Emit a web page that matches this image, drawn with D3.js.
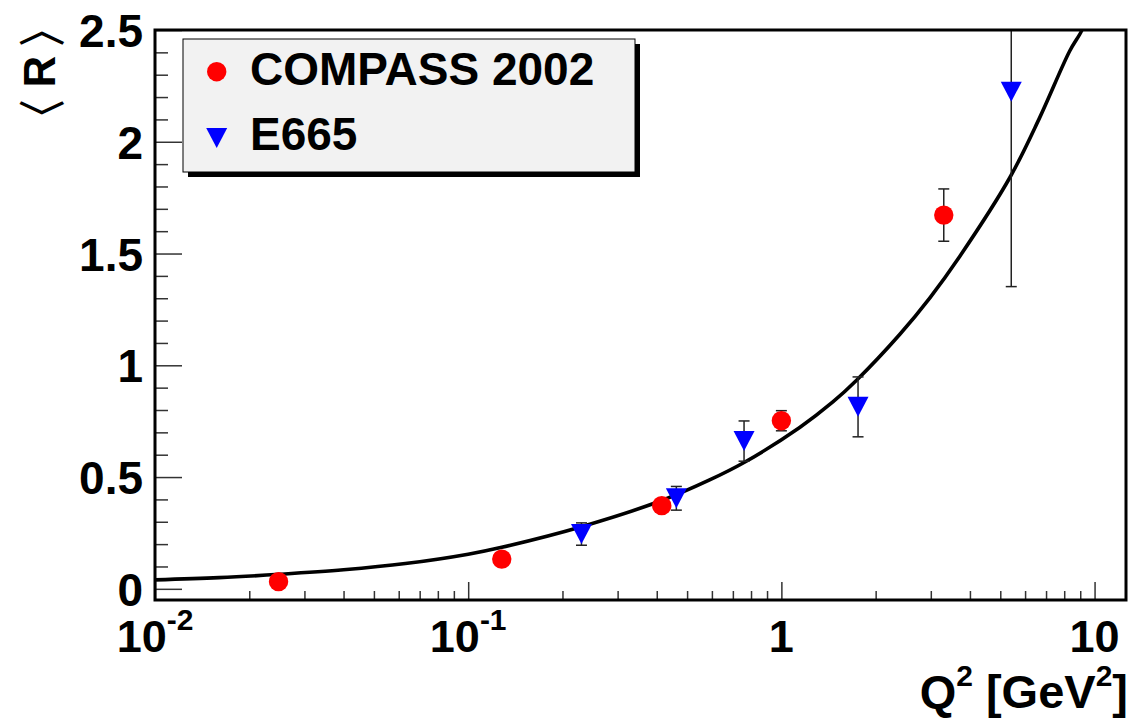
<!DOCTYPE html>
<html>
<head>
<meta charset="utf-8">
<script src="https://cdn.jsdelivr.net/npm/d3@7"></script>
<style>
  html, body { margin: 0; padding: 0; background: #fff; }
  svg text { font-family: "Liberation Sans", Arial, Helvetica, sans-serif; font-weight: bold; fill: #000; }
</style>
</head>
<body>
<svg id="chart" width="1144" height="719"></svg>
<script>
// COMPASS 2002 measurements: <R> versus Q^2
const compassQ2  = [0.0248, 0.128, 0.415, 1.00, 3.30];
const compassR   = [0.032, 0.133, 0.372, 0.752, 1.672];
const compassErr = [0.010, 0.015, 0.020, 0.045, 0.117];

// E665 measurements
const e665Q2  = [0.230, 0.462, 0.760, 1.757, 5.42];
const e665R   = [0.245, 0.405, 0.661, 0.814, 2.224];
const e665Err = [0.050, 0.053, 0.090, 0.134, 0.872];

// Model curve
const curveQ2 = [0.0100, 0.0160, 0.0250, 0.0400, 0.0630, 0.1000, 0.1280, 0.2300, 0.4150,
                 0.5900, 0.7600, 1.1440, 1.4600, 1.7350, 2.3900, 2.9800, 3.7100, 5.3600,
                 6.6800, 8.3300, 9.0800, 9.2500];
const curveR  = [0.040, 0.050, 0.065, 0.085, 0.113, 0.155, 0.186, 0.278, 0.395,
                 0.487, 0.565, 0.722, 0.836, 0.932, 1.139, 1.302, 1.487, 1.839,
                 2.108, 2.406, 2.495, 2.530];

// Axis ticks
const yMajorTicks = [0, 0.5, 1, 1.5, 2, 2.5];
const yTickLabels = ["0", "0.5", "1", "1.5", "2", "2.5"];
const xMajorTicks = [0.01, 0.1, 1, 10];
const xTickBase   = ["10", "10", "1", "10"];
const xTickExp    = ["-2", "-1", "", ""];

const legendLabels = ["COMPASS 2002", "E665"];

const svg = d3.select("#chart");
const frame = { left: 155, top: 30, right: 1126, bottom: 600 };

const x = d3.scaleLog().domain([0.01, 12.6]).range([frame.left, frame.right]);
const y = d3.scaleLinear().domain([-0.05, 2.5]).range([frame.bottom, frame.top]);

svg.append("rect").attr("width", 1144).attr("height", 719).attr("fill", "#fff");

svg.append("clipPath").attr("id", "plotClip")
  .append("rect")
  .attr("x", frame.left).attr("y", frame.top)
  .attr("width", frame.right - frame.left).attr("height", frame.bottom - frame.top);

const plot = svg.append("g").attr("clip-path", "url(#plotClip)");

// model curve
const curveData = curveQ2.map((q, i) => [q, curveR[i]]);
plot.append("path")
  .datum(curveData)
  .attr("fill", "none")
  .attr("stroke", "#000")
  .attr("stroke-width", 3.6)
  .attr("stroke-linejoin", "round")
  .attr("d", d3.line().x(d => x(d[0])).y(d => y(d[1])).curve(d3.curveCatmullRom.alpha(0.5)));

// error bars
function errorBars(qs, rs, es) {
  const g = plot.append("g").attr("stroke", "#222").attr("stroke-width", 1.5);
  qs.forEach((q, i) => {
    const cx = x(q), y0 = y(rs[i] - es[i]), y1 = y(rs[i] + es[i]);
    g.append("line").attr("x1", cx).attr("x2", cx).attr("y1", y0).attr("y2", y1);
    g.append("line").attr("x1", cx - 5.5).attr("x2", cx + 5.5).attr("y1", y0).attr("y2", y0);
    g.append("line").attr("x1", cx - 5.5).attr("x2", cx + 5.5).attr("y1", y1).attr("y2", y1);
  });
}
errorBars(compassQ2, compassR, compassErr);
errorBars(e665Q2, e665R, e665Err);

// markers
const triangleDown = "M-10.5,-10L10.5,-10L0,10Z";
const compassPts = compassQ2.map((q, i) => ({ q, r: compassR[i] }));
const e665Pts = e665Q2.map((q, i) => ({ q, r: e665R[i] }));

plot.selectAll("circle.compass").data(compassPts).enter().append("circle")
  .attr("class", "compass")
  .attr("cx", d => x(d.q)).attr("cy", d => y(d.r)).attr("r", 9.7)
  .attr("fill", "#ff0000");

plot.selectAll("path.e665").data(e665Pts).enter().append("path")
  .attr("class", "e665")
  .attr("transform", d => `translate(${x(d.q)},${y(d.r)})`)
  .attr("d", triangleDown)
  .attr("fill", "#0000ff");

// y axis: major and minor ticks drawn inside the frame
const yMinor = d3.range(0, 25).map(i => i / 10).filter(v => yMajorTicks.indexOf(v) < 0);
const yAxisMinor = d3.axisLeft(y).tickValues(yMinor).tickSize(-13).tickFormat("");
const yAxisMajor = d3.axisLeft(y).tickValues(yMajorTicks).tickSizeInner(-27).tickSizeOuter(0)
  .tickPadding(12).tickFormat((d, i) => yTickLabels[i]);

const gyMinor = svg.append("g").attr("transform", `translate(${frame.left},0)`).call(yAxisMinor);
const gyMajor = svg.append("g").attr("transform", `translate(${frame.left},0)`).call(yAxisMajor);
[gyMinor, gyMajor].forEach(g => {
  g.select(".domain").remove();
  g.selectAll(".tick line").attr("stroke", "#333").attr("stroke-width", 1.5);
});
gyMajor.selectAll(".tick text")
  .attr("font-size", 46).attr("font-family", null).attr("dy", "0.36em");

// x axis: log decades with minor ticks
const xMinor = [];
[0.01, 0.1, 1].forEach(dec => { for (let k = 2; k <= 9; k++) xMinor.push(dec * k); });
const xAxisMinor = d3.axisBottom(x).tickValues(xMinor).tickSize(-9).tickFormat("");
const xAxisMajor = d3.axisBottom(x).tickValues(xMajorTicks).tickSizeInner(-18).tickSizeOuter(0).tickFormat("");
const gxMinor = svg.append("g").attr("transform", `translate(0,${frame.bottom})`).call(xAxisMinor);
const gxMajor = svg.append("g").attr("transform", `translate(0,${frame.bottom})`).call(xAxisMajor);
[gxMinor, gxMajor].forEach(g => {
  g.select(".domain").remove();
  g.selectAll(".tick line").attr("stroke", "#333").attr("stroke-width", 1.5);
});
gxMajor.selectAll(".tick text").remove();

xMajorTicks.forEach((v, i) => {
  const t = svg.append("text")
    .attr("x", x(v)).attr("y", 652)
    .attr("text-anchor", "middle")
    .attr("font-size", 45);
  t.append("tspan").text(xTickBase[i]);
  if (xTickExp[i]) {
    t.append("tspan").attr("font-size", 30).attr("dy", -22).text(xTickExp[i]);
  }
});

// frame
svg.append("rect")
  .attr("x", frame.left).attr("y", frame.top)
  .attr("width", frame.right - frame.left).attr("height", frame.bottom - frame.top)
  .attr("fill", "none").attr("stroke", "#000").attr("stroke-width", 3);

// x axis title
const xTitle = svg.append("text")
  .attr("x", 1128).attr("y", 708)
  .attr("text-anchor", "end").attr("font-size", 47);
xTitle.append("tspan").text("Q");
xTitle.append("tspan").attr("font-size", 30).attr("dy", -22).text("2");
xTitle.append("tspan").attr("dy", 22).text(" [GeV");
xTitle.append("tspan").attr("font-size", 30).attr("dy", -22).text("2");
xTitle.append("tspan").attr("dy", 22).text("]");

// y axis title, rotated; angle brackets set in a thin-stroked CJK face
const yTitle = svg.append("g").attr("transform", "translate(55,30) rotate(-90)");
yTitle.append("text")
  .attr("x", -41.5).attr("y", 0)
  .attr("text-anchor", "middle").attr("font-size", 44)
  .text("R");
yTitle.append("text")
  .attr("x", -20).attr("y", 4)
  .attr("font-family", "Noto Sans CJK JP").attr("font-weight", "normal")
  .attr("font-size", 48)
  .text("〉");
yTitle.append("text")
  .attr("x", -114).attr("y", 4)
  .attr("font-family", "Noto Sans CJK JP").attr("font-weight", "normal")
  .attr("font-size", 48)
  .text("〈");

// legend
const legend = svg.append("g");
const lg = { x: 183, y: 39, w: 452, h: 133 };
legend.append("rect")
  .attr("x", lg.x + 5).attr("y", lg.y + 5).attr("width", lg.w).attr("height", lg.h)
  .attr("fill", "#000");
legend.append("rect")
  .attr("x", lg.x).attr("y", lg.y).attr("width", lg.w).attr("height", lg.h)
  .attr("fill", "#f2f2f2").attr("stroke", "#000").attr("stroke-width", 1);

legend.append("circle").attr("cx", 216.7).attr("cy", 71.7).attr("r", 9.7).attr("fill", "#ff0000");
legend.append("path").attr("transform", "translate(216.7,138)").attr("d", triangleDown).attr("fill", "#0000ff");

legend.selectAll("text.entry").data(legendLabels).enter().append("text")
  .attr("class", "entry")
  .attr("x", 250)
  .attr("y", (d, i) => 85 + i * 65)
  .attr("font-size", 46)
  .text(d => d);
</script>
</body>
</html>
